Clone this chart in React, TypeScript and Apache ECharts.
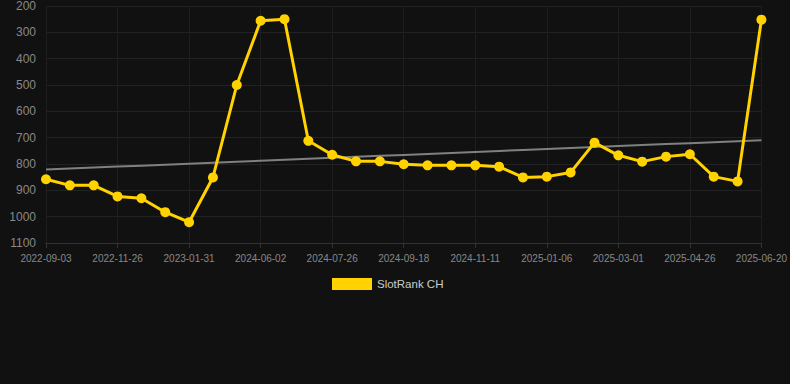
import React, { useEffect, useRef } from "react";
import * as echarts from "echarts";

const categories: string[] = [
  "2022-09-03", "2022-10-01", "2022-10-29", "2022-11-26", "2022-12-18", "2023-01-09",
  "2023-01-31", "2024-04-20", "2024-05-11", "2024-06-02", "2024-06-20", "2024-07-08",
  "2024-07-26", "2024-08-13", "2024-08-31", "2024-09-18", "2024-10-06", "2024-10-24",
  "2024-11-11", "2024-11-30", "2024-12-18", "2025-01-06", "2025-01-24", "2025-02-11",
  "2025-03-01", "2025-03-20", "2025-04-07", "2025-04-26", "2025-05-14", "2025-06-01",
  "2025-06-20",
];

const slotRankCH: number[] = [
  858, 881, 881, 923, 930, 983, 1021, 851, 500, 256, 250, 712, 765, 790, 790, 801,
  805, 805, 805, 810, 851, 848, 832, 719, 767, 791, 772, 763, 848, 866, 252,
];

const seriesName = "SlotRank CH";

function linearTrend(values: number[]): number[] {
  const n = values.length;
  const mx = (n - 1) / 2;
  const my = values.reduce((a, b) => a + b, 0) / n;
  let num = 0;
  let den = 0;
  values.forEach((v, i) => {
    num += (i - mx) * (v - my);
    den += (i - mx) * (i - mx);
  });
  const slope = num / den;
  return values.map((_, i) => my + slope * (i - mx));
}

export default function App() {
  const ref = useRef<HTMLDivElement>(null);

  useEffect(() => {
    document.body.style.margin = "0";
    document.body.style.background = "#111111";
    if (!ref.current) return;
    const chart = echarts.init(ref.current, undefined, { renderer: "svg" });
    const trend = linearTrend(slotRankCH);
    chart.setOption({
      animation: false,
      backgroundColor: "#111111",
      grid: { left: 46, right: 28, top: 6, bottom: 141, containLabel: false },
      legend: {
        data: [{ name: seriesName, icon: "rect" }],
        top: 273,
        left: 327,
        itemWidth: 40,
        itemHeight: 12,
        itemGap: 10,
        textStyle: { color: "#cccccc", fontSize: 11.5, fontFamily: "Arial, Liberation Sans, sans-serif" },
      },
      xAxis: {
        type: "category",
        data: categories,
        boundaryGap: false,
        axisLine: { show: true, lineStyle: { color: "#333333" } },
        axisTick: { show: true, interval: 2, lineStyle: { color: "#333333" } },
        axisLabel: {
          interval: 2,
          color: "#888888",
          fontSize: 10,
          margin: 10,
          fontFamily: "Arial, Liberation Sans, sans-serif",
        },
        splitLine: { show: true, interval: 2, lineStyle: { color: "#1e1e1e" } },
      },
      yAxis: {
        type: "value",
        inverse: true,
        min: 200,
        max: 1100,
        interval: 100,
        axisLine: { show: false },
        axisTick: { show: false },
        axisLabel: {
          color: "#888888",
          fontSize: 12,
          margin: 10,
          formatter: (v: number) => String(v),
          fontFamily: "Arial, Liberation Sans, sans-serif",
        },
        splitLine: { show: true, lineStyle: { color: "#222222" } },
      },
      series: [
        {
          name: "trend",
          type: "line",
          data: trend,
          symbol: "none",
          silent: true,
          z: 1,
          lineStyle: { color: "#808080", width: 2 },
          itemStyle: { color: "#808080" },
        },
        {
          name: seriesName,
          type: "line",
          data: slotRankCH,
          symbol: "circle",
          symbolSize: 10,
          z: 2,
          lineStyle: { color: "#FFD200", width: 3 },
          itemStyle: { color: "#FFD200" },
        },
      ],
    });
    return () => chart.dispose();
  }, []);

  return <div ref={ref} style={{ width: 790, height: 384 }} />;
}
